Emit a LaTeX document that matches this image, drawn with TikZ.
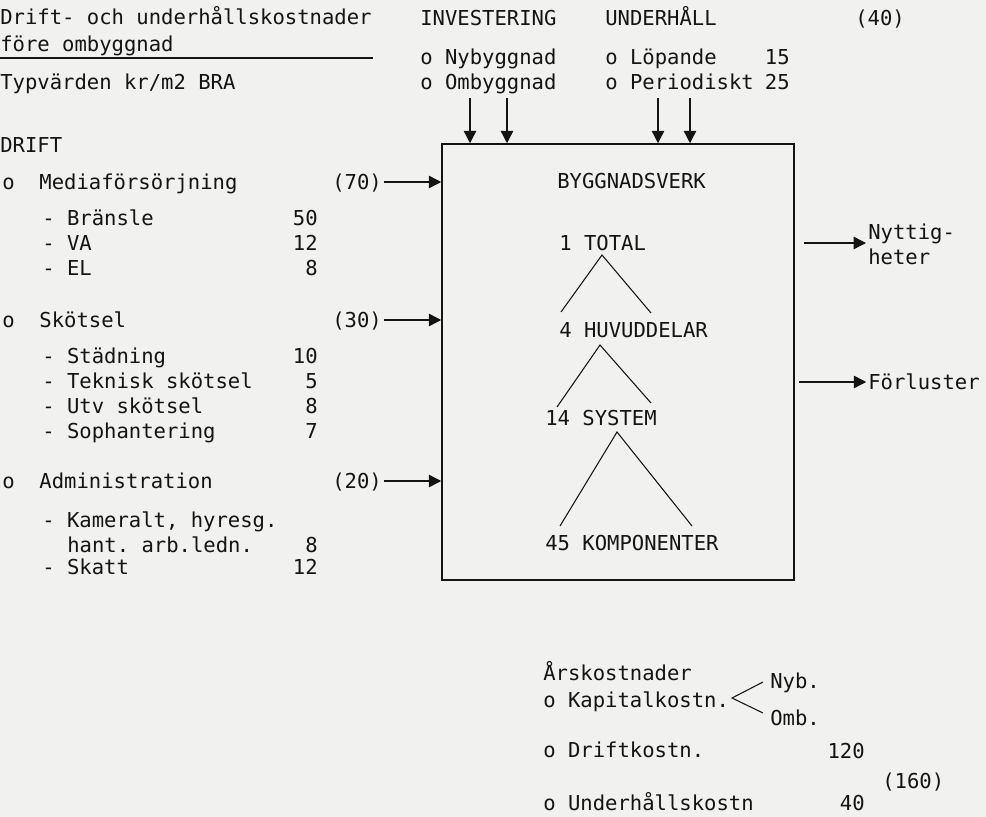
\documentclass[tikz,border=0pt]{standalone}
\usepackage{fontspec}
\setmonofont{DejaVu Sans Mono}
\usepackage{xcolor}
\definecolor{paper}{HTML}{F1F1EF}
\definecolor{ink}{HTML}{141414}
\usetikzlibrary{arrows.meta, positioning, calc}

\begin{document}
\begin{tikzpicture}[
    x=0.02cm, y=-0.02cm,
    txt/.style={inner sep=0pt, anchor=west, text height=8.4pt, text depth=0pt, text=ink, font=\fontsize{11.7}{14}\ttfamily},
    num/.style={txt, anchor=east},
    arr/.style={-{Triangle[length=2.5mm, width=2.5mm]}, line width=0.8pt, draw=ink},
    tree/.style={line width=0.6pt, draw=ink},
]

% Paper
\fill[paper] (0,0) rectangle (986,817);
\useasboundingbox (0,0) rectangle (986,817);

% Heading
\node[txt] (head1) at (0,17) {Drift- och underhållskostnader};
\node[txt] (head2) at (0,44) {före ombyggnad};
\draw[tree, line width=0.7pt] (0,58) -- (373,58);
\node[txt] (typ) at (0,82) {Typvärden kr/m2 BRA};

% Investering and underhall
\node[txt] (inv) at (420,18) {INVESTERING};
\node[txt] (nyb1) at (420,57) {o Nybyggnad};
\node[txt] (omb1) at (420,82) {o Ombyggnad};
\node[txt] (uh) at (605,18) {UNDERHÅLL};
\node[txt] (lop) at (605,57) {o Löpande};
\node[num] (lopn) at (790,57) {15};
\node[txt] (per) at (605,82) {o Periodiskt};
\node[num] (pern) at (790,82) {25};
\node[txt] (p40) at (855,18) {(40)};

% Drift
\node[txt] (drift) at (0,145) {DRIFT};
\node[txt] (media) at (2,182) {o\ \ Mediaförsörjning};
\node[txt] (p70) at (332,182) {(70)};
\node[txt] (bra) at (42,218) {- Bränsle};
\node[num] (bran) at (318,218) {50};
\node[txt] (va) at (42,243) {- VA};
\node[num] (van) at (318,243) {12};
\node[txt] (el) at (42,268) {- EL};
\node[num] (eln) at (318,268) {8};

\node[txt] (skot) at (2,320) {o\ \ Skötsel};
\node[txt] (p30) at (332,320) {(30)};
\node[txt] (stad) at (42,356) {- Städning};
\node[num] (stadn) at (318,356) {10};
\node[txt] (tek) at (42,381) {- Teknisk skötsel};
\node[num] (tekn) at (318,381) {5};
\node[txt] (utv) at (42,406) {- Utv skötsel};
\node[num] (utvn) at (318,406) {8};
\node[txt] (soph) at (42,431) {- Sophantering};
\node[num] (sophn) at (318,431) {7};

\node[txt] (adm) at (2,481) {o\ \ Administration};
\node[txt] (p20) at (332,481) {(20)};
\node[txt] (kam) at (42,520) {- Kameralt, hyresg.};
\node[txt] (hant) at (67,545) {hant. arb.ledn.};
\node[num] (hantn) at (318,545) {8};
\node[txt] (skatt) at (42,567) {- Skatt};
\node[num] (skattn) at (318,567) {12};

% Byggnadsverk
\node[draw=ink, line width=0.9pt, inner sep=0pt, minimum width=7.04cm, minimum height=8.72cm] (box) at (618,362) {};
\node[txt] (bv) at (557,181) {BYGGNADSVERK};
\node[txt] (tot) at (559,243) {1 TOTAL};
\node[txt] (huv) at (559,330) {4 HUVUDDELAR};
\node[txt] (sys) at (545,418) {14 SYSTEM};
\node[txt] (komp) at (545,543) {45 KOMPONENTER};

% Tree
\coordinate (t1) at (602,255); \coordinate (t1l) at (561,312); \coordinate (t1r) at (651,313);
\coordinate (t2) at (600,345); \coordinate (t2l) at (557,407); \coordinate (t2r) at (651,403);
\coordinate (t3) at (617,432); \coordinate (t3l) at (560,526); \coordinate (t3r) at (692,526);
\draw[tree] (t1l) -- (t1) -- (t1r);
\draw[tree] (t2l) -- (t2) -- (t2r);
\draw[tree] (t3l) -- (t3) -- (t3r);

% Inputs
\foreach \x/\n in {470/a, 507/b, 658/c, 690/d} {
    \coordinate (top\n) at (\x,98);
    \draw[arr] (top\n) -- (top\n |- box.north);
}
\foreach \n in {p70, p30, p20}
    \draw[arr] ([xshift=1pt]\n.east) -- (\n.east -| box.west);

% Outputs
\node[txt] (nytt1) at (868,232) {Nyttig-};
\node[txt] (nytt2) at (868,257) {heter};
\node[txt] (forl) at (868,382) {Förluster};
\coordinate (nyttpt) at (866,243);
\draw[arr, shorten <=5pt] (box.east |- nyttpt) -- (nyttpt);
\draw[arr, shorten <=2.5pt] (box.east |- forl.west) -- ([xshift=-1pt]forl.west);

% Arskostnader
\node[txt] (ars) at (543,673) {Årskostnader};
\node[txt] (kap) at (543,700) {o Kapitalkostn.};
\node[txt] (nyb) at (770,681) {Nyb.};
\node[txt] (omb) at (770,718) {Omb.};
\coordinate (kapv) at (732,698);
\coordinate (kapn) at (763,682);
\coordinate (kapo) at (763,713);
\draw[tree] (kapn) -- (kapv) -- (kapo);
\node[txt] (drk) at (543,750) {o Driftkostn.};
\node[num] (drkn) at (865,751) {120};
\node[txt] (p160) at (882,781) {(160)};
\node[txt] (uhk) at (543,803) {o Underhållskostn};
\node[num] (uhkn) at (865,803) {40};

\end{tikzpicture}
\end{document}
